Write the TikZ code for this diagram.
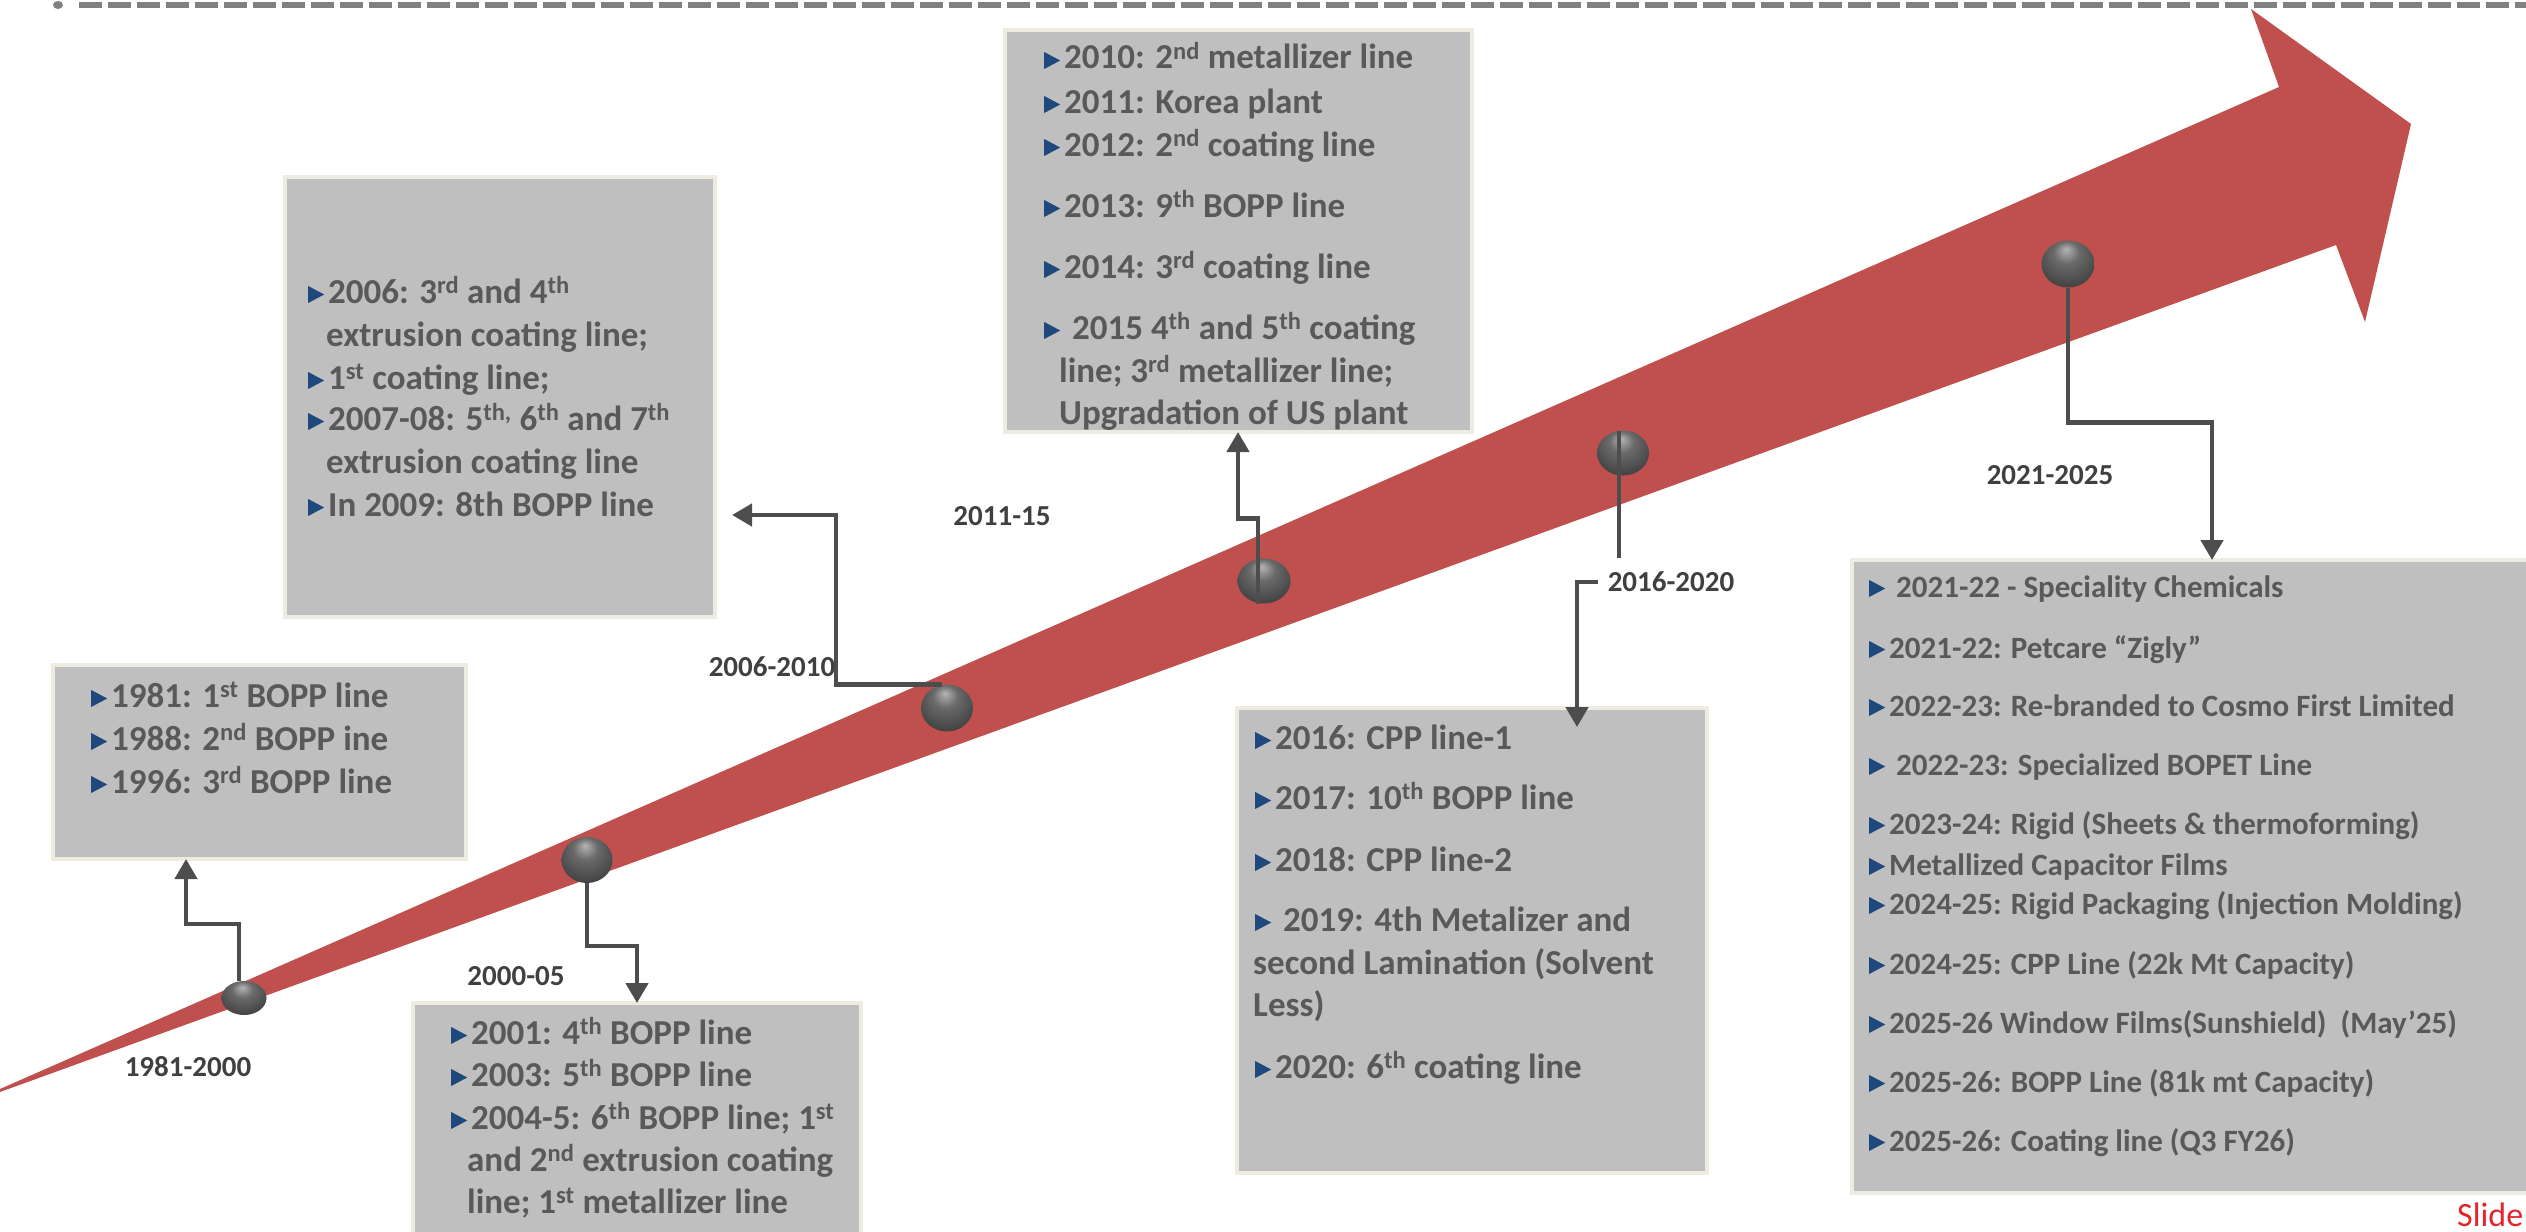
\documentclass[tikz,border=0pt]{standalone}
\usepackage{fontspec}
\setmainfont{Carlito}
\usetikzlibrary{arrows.meta,shapes.geometric}
\definecolor{arrowred}{HTML}{C0504D}
\definecolor{boxfill}{HTML}{BFBFBF}
\definecolor{boxborder}{HTML}{EEECE1}
\definecolor{boxtext}{HTML}{595959}
\definecolor{bulblue}{HTML}{1F497D}
\definecolor{lbltext}{HTML}{404040}
\definecolor{connc}{HTML}{4D4D4D}
\definecolor{dashgray}{HTML}{808080}
\definecolor{slidered}{HTML}{E3242B}
\definecolor{ballhi}{HTML}{B4B4B4}
\definecolor{ballmid}{HTML}{6A6A6A}
\definecolor{balldk}{HTML}{404040}
\definecolor{balledge}{HTML}{2A2A2A}
\pgfdeclareradialshading{sphereball}{\pgfpoint{-2bp}{16bp}}{color(0bp)=(ballhi); color(12bp)=(ballmid); color(32bp)=(balldk); color(50bp)=(balledge)}
\newcommand{\bul}{\tikz[baseline=0pt]\fill[bulblue] (0pt,0pt) -- (0pt,17pt) -- (16pt,8.5pt) -- cycle;\hspace{4pt}}
\tikzset{
  boxst/.style={draw=boxborder, fill=boxfill, line width=4pt, anchor=north west, outer sep=0pt, inner sep=0pt},
  btxt/.style={anchor=base west, inner sep=0pt, text=boxtext, font=\fontsize{35}{42}\selectfont\bfseries},
  ftxt/.style={anchor=base west, inner sep=0pt, text=boxtext, font=\fontsize{31}{38}\selectfont\bfseries},
  lbl/.style={inner sep=0pt, text=lbltext, font=\fontsize{29}{35}\selectfont\bfseries},
  ballst/.style={ellipse, inner sep=0pt, outer sep=0pt, shading=sphereball},
  conn/.style={draw=connc, line width=4.5pt},
  arr/.style={-{Triangle[width=22pt,length=20pt]}}
}
\begin{document}
\begin{tikzpicture}[x=1pt,y=-1pt]
\useasboundingbox (0,0) rectangle (2526,1231);
% top dashed rule
\coordinate (ds) at (79,5);
\coordinate (de) at (2540,5);
\draw[dashgray, line width=6.5pt, dash pattern=on 23pt off 6pt] (ds) -- (de);
\fill[dashgray] (58,5) ellipse (5 and 4);
% red arrow
\fill[arrowred] (0,1089) -- (2279,87) -- (2251,9) -- (2411,124) -- (2365,322) -- (2336,245) -- (0,1092) -- cycle;
% boxes
\node[boxst, minimum width=413pt, minimum height=194pt] (bA) at (53,665) {};
\node[boxst, minimum width=448pt, minimum height=242pt] (bB) at (413,1003) {};
\node[boxst, minimum width=430pt, minimum height=440pt] (bC) at (285,177) {};
\node[boxst, minimum width=467pt, minimum height=402pt] (bD) at (1005,30) {};
\node[boxst, minimum width=470pt, minimum height=465pt] (bE) at (1237,708) {};
\node[boxst, minimum width=688pt, minimum height=633pt] (bF) at (1852,560) {};
% box A
\node[btxt] (tA1) at (91,707) {\bul 1981: 1\textsuperscript{st} BOPP line};
\node[btxt] (tA2) at (91,750) {\bul 1988: 2\textsuperscript{nd} BOPP ine};
\node[btxt] (tA3) at (91,793) {\bul 1996: 3\textsuperscript{rd} BOPP line};
% box B
\node[btxt] (tB1) at (451,1044) {\bul 2001: 4\textsuperscript{th} BOPP line};
\node[btxt] (tB2) at (451,1086) {\bul 2003: 5\textsuperscript{th} BOPP line};
\node[btxt] (tB3) at (451,1129) {\bul 2004-5: 6\textsuperscript{th} BOPP line; 1\textsuperscript{st}};
\node[btxt] (tB4) at (467,1171) {and 2\textsuperscript{nd} extrusion coating};
\node[btxt] (tB5) at (467,1213) {line; 1\textsuperscript{st} metallizer line};
% box C
\node[btxt] (tC1) at (308,303) {\bul 2006: 3\textsuperscript{rd} and 4\textsuperscript{th}};
\node[btxt] (tC2) at (326,346) {extrusion coating line;};
\node[btxt] (tC3) at (308,389) {\bul 1\textsuperscript{st} coating line;};
\node[btxt] (tC4) at (308,430) {\bul 2007-08: 5\textsuperscript{th,} 6\textsuperscript{th} and 7\textsuperscript{th}};
\node[btxt] (tC5) at (326,473) {extrusion coating line};
\node[btxt] (tC6) at (308,516) {\bul In 2009: 8th BOPP line};
% box D
\node[btxt] (tD1) at (1044,69) {\bul 2010: 2\textsuperscript{nd} metallizer line};
\node[btxt] (tD2) at (1044,113) {\bul 2011: Korea plant};
\node[btxt] (tD3) at (1044,156) {\bul 2012: 2\textsuperscript{nd} coating line};
\node[btxt] (tD4) at (1044,217) {\bul 2013: 9\textsuperscript{th} BOPP line};
\node[btxt] (tD5) at (1044,278) {\bul 2014: 3\textsuperscript{rd} coating line};
\node[btxt] (tD6) at (1044,339) {\bul\ 2015 4\textsuperscript{th} and 5\textsuperscript{th} coating};
\node[btxt] (tD7) at (1059,382) {line; 3\textsuperscript{rd} metallizer line;};
\node[btxt] (tD8) at (1059,424) {Upgradation of US plant};
% box E
\node[btxt] (tE1) at (1255,749) {\bul 2016: CPP line-1};
\node[btxt] (tE2) at (1255,809) {\bul 2017: 10\textsuperscript{th} BOPP line};
\node[btxt] (tE3) at (1255,871) {\bul 2018: CPP line-2};
\node[btxt] (tE4) at (1255,931) {\bul\ 2019: 4th Metalizer and};
\node[btxt] (tE5) at (1253,974) {second Lamination (Solvent};
\node[btxt] (tE6) at (1253,1016) {Less)};
\node[btxt] (tE7) at (1255,1078) {\bul 2020: 6\textsuperscript{th} coating line};
% box F
\node[ftxt] (tF1) at (1869,597) {\bul\ 2021-22 - Speciality Chemicals};
\node[ftxt] (tF2) at (1869,658) {\bul 2021-22: Petcare “Zigly”};
\node[ftxt] (tF3) at (1869,716) {\bul 2022-23: Re-branded to Cosmo First Limited};
\node[ftxt] (tF4) at (1869,775) {\bul\ 2022-23: Specialized BOPET Line};
\node[ftxt] (tF5) at (1869,834) {\bul 2023-24: Rigid (Sheets \& thermoforming)};
\node[ftxt] (tF6) at (1869,875) {\bul Metallized Capacitor Films};
\node[ftxt] (tF7) at (1869,914) {\bul 2024-25: Rigid Packaging (Injection Molding)};
\node[ftxt] (tF8) at (1869,974) {\bul 2024-25: CPP Line (22k Mt Capacity)};
\node[ftxt] (tF9) at (1869,1033) {\bul 2025-26 Window Films(Sunshield)\ \ (May’25)};
\node[ftxt] (tF10) at (1869,1092) {\bul 2025-26: BOPP Line (81k mt Capacity)};
\node[ftxt] (tF11) at (1869,1151) {\bul 2025-26: Coating line (Q3 FY26)};
% period labels
\node[lbl] (L1) at (188,1067) {1981-2000};
\node[lbl] (L2) at (516,976) {2000-05};
\node[lbl] (L3) at (772,667) {2006-2010};
\node[lbl] (L4) at (1002,516) {2011-15};
\node[lbl] (L5) at (1671,582) {2016-2020};
\node[lbl] (L6) at (2050,475) {2021-2025};
% balls
\node[ballst, minimum width=45pt, minimum height=34pt] (b1) at (244,998) {};
\node[ballst, minimum width=51pt, minimum height=46pt] (b2) at (587,860) {};
\node[ballst, minimum width=52pt, minimum height=47pt] (b3) at (947,708) {};
\node[ballst, minimum width=53pt, minimum height=45pt] (b4) at (1264,581) {};
\node[ballst, minimum width=52pt, minimum height=45pt] (b5) at (1623,453) {};
\node[ballst, minimum width=53pt, minimum height=47pt] (b6) at (2068,264) {};
% connectors
\coordinate (c3end) at (732,515);
\draw[conn, arr] ([xshift=-5pt]b1.north) -- ++(0,-57) -| ([xshift=133pt]bA.south west);
\draw[conn, arr] (b2.south) -- ++(0,63) -| ([xshift=224pt]bB.north west);
\draw[conn, arr] ([xshift=-5pt]b3.north) -- ++(-106,0) |- (c3end);
\draw[conn, arr] ([xshift=-6pt]b4.south) -- ++(0,-85) -| ([xshift=233pt]bD.south west);
\draw[conn] ([xshift=-4pt]b5.north) -- ++(0,127);
\draw[conn, arr] ([xshift=-10pt]L5.west) -| ([xshift=340pt,yshift=-19pt]bE.north west);
\draw[conn, arr] (b6.south) -- ++(0,135) -| ([xshift=360pt]bF.north west);
% footer
\node[anchor=base west, inner sep=0pt, text=slidered, font=\fontsize{34}{40}\selectfont] (slide) at (2457,1226) {Slide};
\end{tikzpicture}
\end{document}
